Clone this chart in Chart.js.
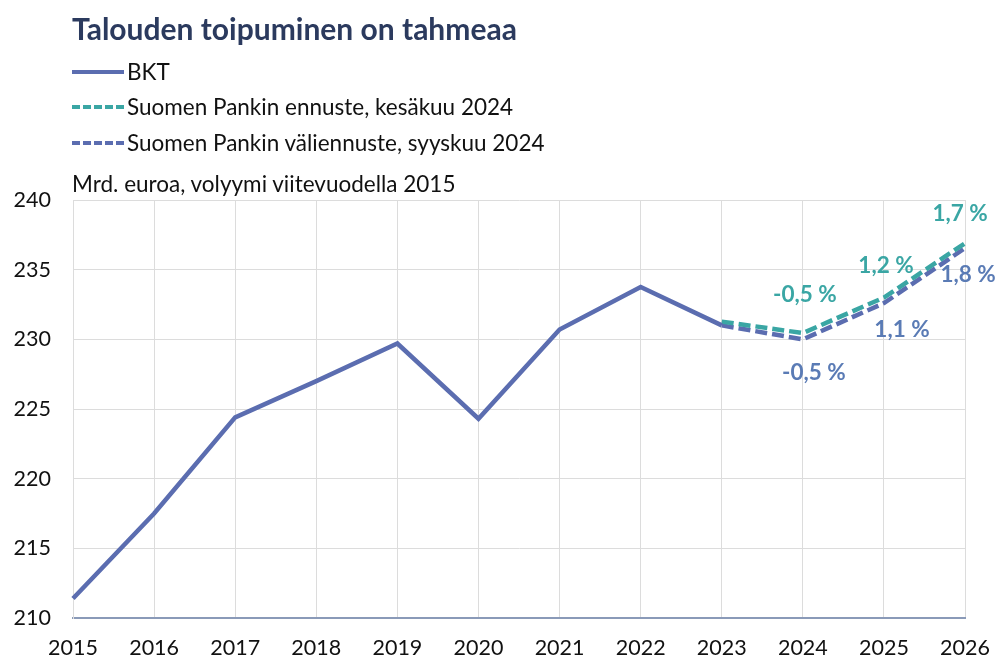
<!DOCTYPE html>
<html>
<head>
<meta charset="utf-8">
<script src="https://cdn.jsdelivr.net/npm/chart.js@4"></script>
<style>
  body { margin: 0; background: #fff; font-family: Lato, 'Open Sans', sans-serif; }
  #wrap { position: relative; width: 1007px; height: 661px; }
  canvas { position: absolute; left: 0; top: 0; }
  .title { position: absolute; left: 72px; top: 10px; font-size: 30px; font-weight: 700; color: #2b3a5e; }
  .leg { position: absolute; left: 72px; font-size: 22.5px; color: #111; display: flex; align-items: center; }
  .leg i { display: inline-block; width: 52px; height: 0; border-top: 4px solid; margin-right: 3px; }
  .sub { position: absolute; left: 72px; top: 170px; font-size: 22.5px; color: #111; }
</style>
</head>
<body>
<div id="wrap">
  <canvas id="chart" width="1007" height="661"></canvas>
  <div class="title">Talouden toipuminen on tahmeaa</div>
  <div class="leg" style="top:58px"><i style="border-color:#5b6db0"></i>BKT</div>
  <div class="leg" style="top:93px"><i style="border-color:#3aa6a4;border-top-style:dashed"></i>Suomen Pankin ennuste, kesäkuu 2024</div>
  <div class="leg" style="top:129px"><i style="border-color:#5b6db0;border-top-style:dashed"></i>Suomen Pankin väliennuste, syyskuu 2024</div>
  <div class="sub">Mrd. euroa, volyymi viitevuodella 2015</div>
</div>
<script>
const years = ['2015','2016','2017','2018','2019','2020','2021','2022','2023','2024','2025','2026'];
const bkt = [211.4, 217.5, 224.4, 227.0, 229.7, 224.3, 230.7, 233.75, 231.0, null, null, null];
const juneForecast = [null, null, null, null, null, null, null, null, 231.27, 230.45, 233.0, 236.9];
const septForecast = [null, null, null, null, null, null, null, null, 231.0, 230.0, 232.6, 236.55];
const juneLabels = [null, null, null, null, null, null, null, null, null, '-0,5 %', '1,2 %', '1,7 %'];
const septLabels = [null, null, null, null, null, null, null, null, null, '-0,5 %', '1,1 %', '1,8 %'];

const TEAL = '#3aa6a4';
const BLUE = '#5b6db0';
const FONT = "Lato, 'Open Sans', sans-serif";

// label offsets relative to the point: [dx, dy]
const juneOffsets = { 9: [2, -38], 10: [2, -32], 11: [-5, -29] };
const septOffsets = { 9: [11, 33], 10: [18, 27], 11: [3, 27] };

const pointLabels = {
  id: 'pointLabels',
  afterDatasetsDraw(chart) {
    const { ctx } = chart;
    ctx.save();
    ctx.font = '700 22.5px ' + FONT;
    ctx.textAlign = 'center';
    ctx.textBaseline = 'middle';
    [[1, juneLabels, juneOffsets, TEAL], [2, septLabels, septOffsets, '#5a7bb5']].forEach(([di, labels, offs, color]) => {
      const meta = chart.getDatasetMeta(di);
      labels.forEach((t, i) => {
        if (!t) return;
        const p = meta.data[i];
        const o = offs[i] || [0, 0];
        ctx.fillStyle = color;
        ctx.fillText(t, p.x + o[0], p.y + o[1]);
      });
    });
    ctx.restore();
  }
};

new Chart(document.getElementById('chart'), {
  type: 'line',
  data: {
    labels: years,
    datasets: [
      { label: 'BKT', data: bkt, borderColor: BLUE, borderWidth: 4.5, pointRadius: 0, tension: 0 },
      { label: 'Suomen Pankin ennuste, kesäkuu 2024', data: juneForecast, borderColor: TEAL, borderWidth: 4.5, borderDash: [12, 5], pointRadius: 0, tension: 0 },
      { label: 'Suomen Pankin väliennuste, syyskuu 2024', data: septForecast, borderColor: BLUE, borderWidth: 4.5, borderDash: [12, 5], pointRadius: 0, tension: 0 }
    ]
  },
  options: {
    responsive: false,
    animation: false,
    layout: { padding: { top: 200, right: 37, left: 0, bottom: 0 } },
    plugins: { legend: { display: false }, tooltip: { enabled: false } },
    scales: {
      x: {
        offset: false,
        grid: { color: '#dcdcdc', drawTicks: false },
        border: { color: '#8a9ab8', width: 2 },
        ticks: { color: '#111', font: { size: 21.5, family: FONT }, padding: 17, maxRotation: 0 },
        afterFit(s) { s.height = 43; }
      },
      y: {
        min: 210, max: 240,
        grid: { color: '#dcdcdc', drawTicks: false },
        border: { color: '#dcdcdc' },
        ticks: { stepSize: 5, color: '#111', font: { size: 21.5, family: FONT }, padding: 22 },
        afterFit(s) { s.width = 73; }
      }
    }
  },
  plugins: [pointLabels]
});
</script>
</body>
</html>
